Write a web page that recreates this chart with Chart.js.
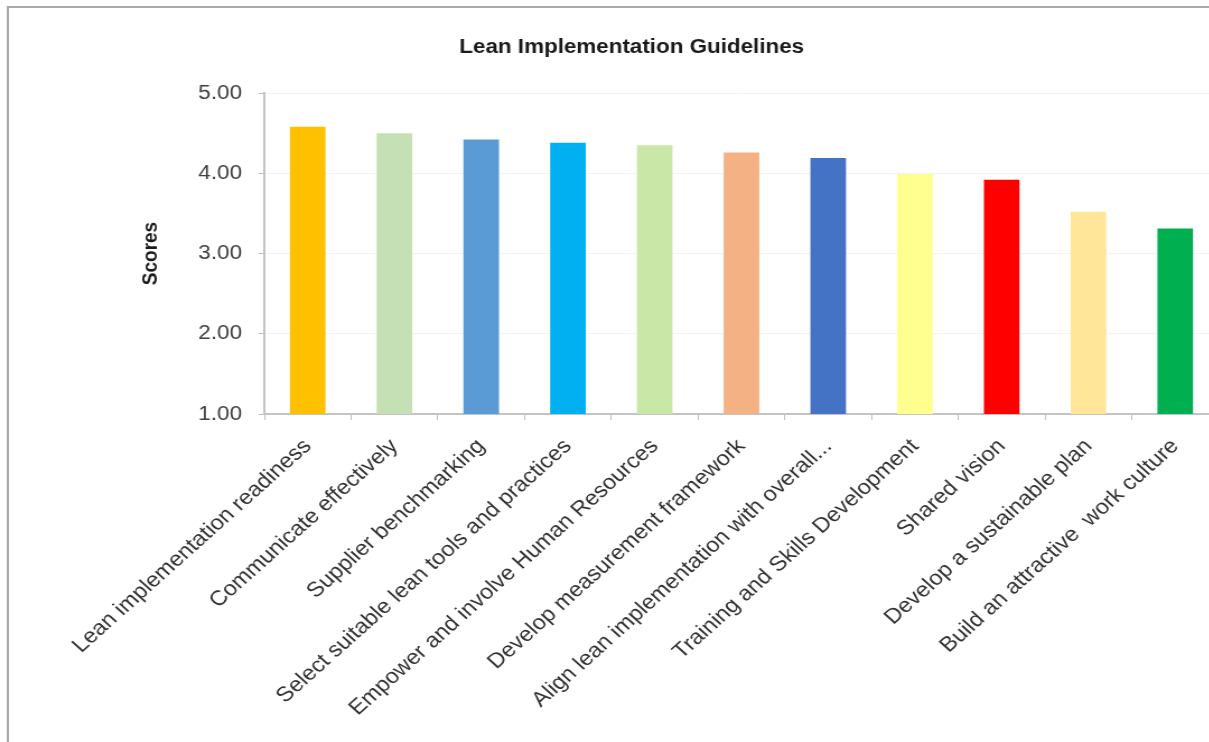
<!DOCTYPE html>
<html>
<head>
<meta charset="utf-8">
<script src="https://cdn.jsdelivr.net/npm/chart.js@4.4.1/dist/chart.umd.min.js"></script>
<style>
  html, body { margin: 0; padding: 0; background: #ffffff; overflow: hidden; width: 1209px; height: 742px; }
  #wrap { position: absolute; left: 0; top: 0; width: 1100px; height: 742px; transform: scale(1.12, 1); transform-origin: 0 0; }
</style>
</head>
<body>
<div id="wrap"><canvas id="c" width="1100" height="742"></canvas></div>
<script>
const chartTitle = "Lean Implementation Guidelines";
const yAxisTitle = "Scores";
const categories = [
  "Lean implementation readiness",
  "Communicate effectively",
  "Supplier benchmarking",
  "Select suitable lean tools and practices",
  "Empower and involve Human Resources",
  "Develop measurement framework",
  "Align lean implementation with overall...",
  "Training and Skills Development",
  "Shared vision",
  "Develop a sustainable plan",
  "Build an attractive  work culture"
];
const scores = [4.58, 4.50, 4.42, 4.38, 4.35, 4.26, 4.19, 3.99, 3.92, 3.52, 3.31];
const barColors = [
  "#FFC000", "#C5E0B4", "#5B9BD5", "#00B0F0", "#C9E7A7", "#F4B183",
  "#4472C4", "#FFFF8F", "#FF0000", "#FFE699", "#00B050"
];
const yMin = 1, yMax = 5, yStep = 1;

const framePlugin = {
  id: 'frame',
  beforeDraw(chart) {
    const ctx = chart.ctx;
    ctx.save();
    ctx.fillStyle = '#ffffff';
    ctx.fillRect(0, 0, chart.width, chart.height);
    ctx.strokeStyle = '#a8a8a8';
    ctx.lineWidth = 2;
    ctx.beginPath();
    ctx.moveTo(7, chart.height);
    ctx.lineTo(7, 7);
    ctx.lineTo(chart.width, 7);
    ctx.stroke();
    ctx.restore();
  }
};

new Chart(document.getElementById('c'), {
  type: 'bar',
  data: {
    labels: categories,
    datasets: [{
      data: scores,
      backgroundColor: barColors,
      borderWidth: 0,
      barPercentage: 0.41,
      categoryPercentage: 1.0
    }]
  },
  options: {
    responsive: false,
    animation: false,
    devicePixelRatio: 1,
    layout: { padding: { left: 40, right: 12, top: 0, bottom: 0 } },
    plugins: {
      legend: { display: false },
      tooltip: { enabled: false },
      title: {
        display: true,
        text: chartTitle,
        color: '#1a1a1a',
        font: { family: 'Liberation Sans', size: 20, weight: 'bold' },
        padding: { top: 35, bottom: 34 }
      }
    },
    scales: {
      x: {
        grid: { display: true, drawOnChartArea: false, offset: true, color: '#bfbfbf', tickLength: 6, tickWidth: 1 },
        border: { display: true, color: '#c4c4c4', width: 2 },
        ticks: {
          color: '#333333',
          font: { family: 'Liberation Sans', size: 21 },
          minRotation: 45, maxRotation: 45, autoSkip: false, padding: 14
        },
        afterFit(scale) { scale.height = 328; }
      },
      y: {
        min: yMin, max: yMax,
        ticks: {
          stepSize: yStep,
          color: '#404040',
          font: { family: 'Liberation Sans', size: 20 },
          padding: 15,
          callback: v => Number(v).toFixed(2)
        },
        grid: { color: '#f3f3f3', tickColor: '#bfbfbf', tickLength: 5, lineWidth: 1 },
        border: { display: true, color: '#c4c4c4', width: 2 },
        title: {
          display: true,
          text: yAxisTitle,
          color: '#1a1a1a',
          font: { family: 'Liberation Sans', size: 19, weight: 'bold' },
          padding: { top: 83, bottom: 0 }
        },
        afterFit(scale) { scale.width = 196; }
      }
    }
  },
  plugins: [framePlugin]
});
</script>
</body>
</html>
